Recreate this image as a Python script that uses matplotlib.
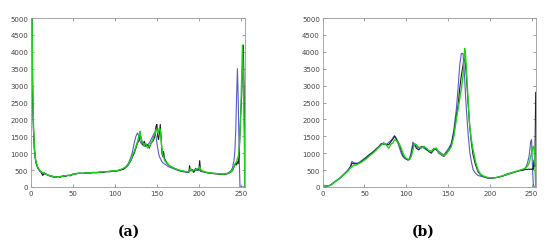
import matplotlib
matplotlib.use("Agg")
import matplotlib.pyplot as plt

# ---------------- panel (a) ----------------
bins_a = [0, 1, 2, 3, 4, 5, 6,
          8, 10, 12, 14, 16, 18, 20,
          23, 26, 29, 32, 35, 38, 41, 44, 47, 50,
          54, 58, 62, 66, 70, 74, 78, 82, 86, 90, 94, 98,
          102, 106, 110, 113, 116, 119,
          121, 123, 125, 127, 129, 130, 131, 133, 135, 137, 139, 141, 143, 145, 147, 149,
          150, 151, 152, 153, 154, 155, 156, 157, 158, 159,
          161, 164, 167, 170, 174, 178, 182, 186,
          188, 189, 190, 192, 194, 196, 198, 200, 201, 202, 204,
          208, 212, 216, 220, 224, 228, 232, 235, 238, 240,
          242, 243, 244, 245, 246, 247, 248, 249, 250, 251, 252, 253, 254, 255]

blue_a = [9000, 5200, 2600, 1600, 1100, 850, 700,
          560, 480, 430, 400, 380, 390, 360,
          330, 320, 300, 310, 300, 320, 330, 340, 350, 380,
          400, 400, 410, 410, 420, 420, 430, 430, 440, 450, 460, 470,
          480, 500, 540, 600, 700, 880,
          1050, 1300, 1500, 1600, 1450, 1350, 1300, 1250, 1200, 1250, 1250, 1300, 1400, 1500, 1600, 1500,
          1300, 1150, 1000, 900, 850, 800, 750, 720, 700, 680,
          650, 600, 570, 540, 500, 470, 450, 440,
          450, 470, 500, 480, 470, 490, 500, 500, 490, 460, 450,
          440, 420, 410, 400, 390, 380, 390, 420, 470, 560,
          800, 1100, 1700, 2700, 3500, 2500, 1000, 0, 0, 0, 0, 0, 0, 0]

black_a = [9000, 5400, 2800, 1700, 1150, 880, 720,
           580, 500, 440, 340, 420, 370, 350,
           320, 300, 280, 310, 290, 330, 310, 350, 330, 380,
           390, 410, 400, 420, 410, 430, 420, 440, 430, 460, 450, 480,
           470, 500, 520, 580, 650, 780,
           900, 1000, 1150, 1300, 1400, 1600, 1450, 1250, 1350, 1200, 1250, 1150, 1300, 1350, 1450, 1800,
           1850, 1500, 1400, 1600, 1850, 1500, 1000, 900, 1050, 850,
           750, 650, 600, 560, 520, 480, 460, 440,
           430, 630, 480, 520, 430, 550, 500, 520, 780, 500, 470,
           430, 410, 400, 390, 380, 370, 380, 400, 440, 480,
           600, 650, 700, 650, 750, 700, 900, 1600, 2200, 2700, 3500, 4200, 2700, 0]

green_a = [9000, 5600, 3000, 1800, 1200, 900, 740,
           590, 500, 450, 420, 400, 380, 360,
           330, 310, 290, 300, 310, 320, 330, 340, 350, 370,
           400, 410, 400, 420, 420, 430, 430, 440, 450, 450, 470, 480,
           480, 510, 550, 600, 660, 800,
           950, 1050, 1200, 1350, 1550, 1650, 1450, 1300, 1250, 1280, 1150, 1200, 1280, 1400, 1550, 1700,
           1700, 1600, 1650, 1750, 1700, 1400, 1150, 950, 900, 800,
           720, 650, 600, 560, 520, 490, 470, 450,
           450, 480, 560, 470, 500, 520, 530, 560, 600, 520, 480,
           440, 420, 410, 400, 390, 380, 390, 410, 450, 500,
           620, 680, 720, 750, 850, 900, 1100, 1600, 2200, 3200, 4200, 3300, 1800, 0]

# ---------------- panel (b) ----------------
bins_b = [0, 3, 6, 9, 12, 15, 18, 21, 24, 27, 30, 33,
          35, 37, 40, 43, 46, 49, 52, 55, 58, 61, 64, 67, 70, 73, 76, 79, 82,
          84, 86, 88, 90, 92, 94, 96, 98, 100, 102, 104, 106, 108, 110, 112,
          115, 118, 121, 124, 127, 130, 133, 136, 139, 142, 145, 148, 151, 154, 157, 160,
          162, 164, 166, 168, 169, 170, 171, 172, 174, 176, 178, 180,
          183, 186, 189, 192, 195, 198, 201, 205, 210, 215, 220, 225, 230, 235, 240,
          243, 245, 247, 248, 249, 250, 251, 252, 253, 254, 255]

blue_b = [40, 30, 30, 60, 110, 170, 220, 280, 350, 420, 500, 600,
          760, 720, 700, 720, 770, 830, 880, 950, 1000, 1060, 1130, 1200, 1280, 1260, 1250, 1320, 1380,
          1450, 1520, 1450, 1300, 1150, 1000, 900, 850, 820, 800, 850, 1050, 1330, 1250, 1200,
          1150, 1200, 1150, 1100, 1080, 1050, 1150, 1100, 1050, 1000, 950, 1050, 1150, 1300, 1700, 2300,
          2900, 3600, 3950, 3950, 3600, 3200, 2700, 2300, 1600, 1050, 750, 520,
          400, 340, 320, 300, 280, 260, 260, 270, 290, 320, 380, 420, 450, 480, 500,
          580, 700, 900, 1100, 1350, 1400, 700, 100, 0, 0, 0]

black_b = [40, 35, 30, 50, 100, 160, 210, 270, 340, 410, 480, 580,
           700, 690, 690, 700, 750, 800, 870, 930, 990, 1040, 1120, 1180, 1270, 1300, 1260, 1250, 1350,
           1420, 1500, 1420, 1350, 1250, 1100, 950, 870, 830, 800, 810, 950, 1200, 1280, 1150,
           1100, 1180, 1200, 1120, 1050, 1000, 1100, 1120, 1000, 950, 900, 1000, 1100, 1250, 1600, 2100,
           2400, 2900, 3300, 3600, 3800, 3750, 3600, 3300, 2500, 1800, 1300, 950,
           650, 450, 360, 320, 290, 270, 260, 270, 290, 320, 360, 400, 440, 480, 500,
           520, 520, 530, 520, 530, 520, 540, 520, 800, 600, 2800]

green_b = [50, 40, 30, 50, 100, 160, 210, 270, 340, 400, 470, 560,
           600, 640, 650, 690, 730, 780, 830, 900, 960, 1020, 1090, 1170, 1240, 1300, 1250, 1150, 1280,
           1300, 1400, 1380, 1320, 1250, 1150, 1000, 900, 850, 820, 830, 900, 1100, 1280, 1250,
           1180, 1150, 1200, 1150, 1080, 1050, 1120, 1150, 1020, 960, 920, 980, 1080, 1200, 1500, 2000,
           2300, 2600, 2900, 3300, 3700, 4100, 3900, 3500, 2600, 1800, 1400, 1100,
           750, 500, 380, 330, 300, 280, 270, 270, 290, 330, 370, 410, 450, 490, 530,
           560, 620, 700, 800, 900, 1000, 1100, 1200, 1150, 700, 50]

x_ticks = [0, 50, 100, 150, 200, 250]
y_ticks = [0, 500, 1000, 1500, 2000, 2500, 3000, 3500, 4000, 4500, 5000]
captions = ["(a)", "(b)"]

fig = plt.figure(figsize=(5.5, 2.51), dpi=100)
W, H = 550.0, 251.0
rects = [(31 / W, 63 / H, 214 / W, 169 / H),
         (322.7 / W, 63 / H, 213 / W, 169 / H)]
panels = [(bins_a, blue_a, black_a, green_a), (bins_b, blue_b, black_b, green_b)]
cap_x = [129 / W, 423 / W]

for rect, (bx, b, k, g), cap, cx in zip(rects, panels, captions, cap_x):
    ax = fig.add_axes(rect)
    ax.plot(bx, b, color="#5a5ac8", lw=0.8)
    ax.plot(bx, k, color="#1e1e1e", lw=0.8)
    ax.plot(bx, g, color="#19d219", lw=1.0)
    ax.set_xlim(0, 255)
    ax.set_ylim(0, 5000)
    ax.set_xticks(x_ticks)
    ax.set_yticks(y_ticks)
    ax.tick_params(direction="in", length=2, width=0.5, colors="#777777",
                   labelsize=5, labelcolor="#444444", top=True, right=True, pad=2)
    for s in ax.spines.values():
        s.set_color("#9a9a9a")
        s.set_linewidth(0.6)
    fig.text(cx, 19 / H, cap, ha="center", va="center", fontsize=10,
             fontweight="bold", family="DejaVu Serif")

fig.savefig("out.png", dpi=100)
